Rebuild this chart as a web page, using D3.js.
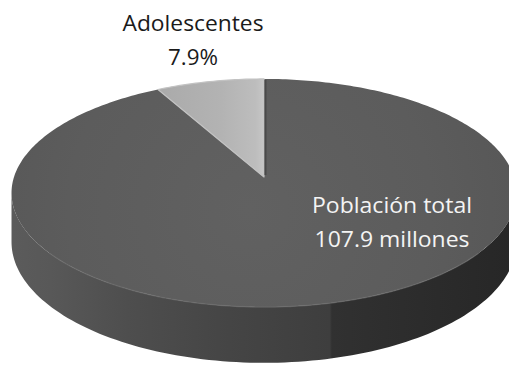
<!DOCTYPE html>
<html>
<head>
<meta charset="utf-8">
<script src="https://cdn.jsdelivr.net/npm/d3@7"></script>
<style>
  html, body { margin: 0; padding: 0; background: #ffffff; }
  svg { display: block; }
</style>
</head>
<body>
<svg id="chart" width="509" height="366"></svg>
<script>
// ---- data ----
const categories = ["Población total", "Adolescentes"];
const shares = [92.1, 7.9];            // percent of the pie
const totalMillions = 107.9;           // total population (millions)
const labelLines = [
  ["Población total", totalMillions + " millones"],
  ["Adolescentes", "7.9%"]
];

// ---- geometry (perspective pie) ----
const W = 509, H = 366;
const cx = 264, cy = 177;   // apex of the slices
const Sx = 250, Sy = 111.8, k = 0.14, depth = 48;

const svg = d3.select("#chart");
const defs = svg.append("defs");

const pie = d3.pie().sort(null).value(d => d)(shares);

function project(theta, h) {
  const u = Math.sin(theta);
  const v = -Math.cos(theta);          // +1 = front, -1 = back
  const w = 1 - k * v;
  return [cx + Sx * u / w, cy + (Sy * v + h) / w];
}
function arcPoints(a0, a1, h, n) {
  const pts = [];
  for (let i = 0; i <= n; i++) {
    const t = a0 + (a1 - a0) * i / n;
    pts.push(project(t, h));
  }
  return pts;
}
const line = d3.line().curve(d3.curveLinear);

// side gradient
const sg = defs.append("linearGradient").attr("id", "sideGrad")
  .attr("gradientUnits", "userSpaceOnUse")
  .attr("x1", 0).attr("y1", 0).attr("x2", W).attr("y2", 0);
[[0, "#5c5c5c"], [0.1, "#585858"], [0.25, "#4e4e4e"], [0.45, "#454545"], [0.648, "#3e3e3e"],
 [0.652, "#313131"], [1, "#272727"]].forEach(s =>
  sg.append("stop").attr("offset", s[0]).attr("stop-color", s[1]));

// top face radial gradient (subtle)
const tg = defs.append("radialGradient").attr("id", "topGrad")
  .attr("gradientUnits", "userSpaceOnUse")
  .attr("cx", 250).attr("cy", 210).attr("r", 260);
[[0, "#616161"], [0.7, "#5c5c5c"], [1, "#585858"]].forEach(s =>
  tg.append("stop").attr("offset", s[0]).attr("stop-color", s[1]));

const ag = defs.append("linearGradient").attr("id", "adoGrad")
  .attr("x1", 0).attr("y1", 0).attr("x2", 1).attr("y2", 0);
[[0, "#aaaaaa"], [0.6, "#b3b3b3"], [0.92, "#bdbdbd"], [1, "#c6c6c6"]].forEach(s =>
  ag.append("stop").attr("offset", s[0]).attr("stop-color", s[1]));

// ---- side (visible front wall) ----
const thR = Math.acos(-k), thL = 2 * Math.PI - Math.acos(-k);
const sideTop = arcPoints(thR, thL, 0, 120);
const sideBot = arcPoints(thL, thR, depth, 120);
svg.append("path")
  .attr("d", line(sideTop.concat(sideBot)) + "Z")
  .attr("fill", "url(#sideGrad)");

// ---- top faces ----
pie.forEach((s, i) => {
  const n = Math.max(8, Math.round((s.endAngle - s.startAngle) * 60));
  const pts = [[cx, cy]].concat(arcPoints(s.startAngle, s.endAngle, 0, n));
  svg.append("path")
    .attr("d", line(pts) + "Z")
    .attr("fill", i === 0 ? "url(#topGrad)" : "url(#adoGrad)")
    .attr("stroke", i === 0 ? "none" : "#c2c2c2")
    .attr("stroke-width", i === 0 ? 0 : 1.2)
    .attr("stroke-linejoin", "round");
});

// rim highlight at the front
svg.append("path")
  .attr("d", line(arcPoints(Math.PI - 0.9, Math.PI + 0.9, 0, 100)))
  .attr("fill", "none").attr("stroke", "#6a6a6a").attr("stroke-width", 1.5)
  .attr("opacity", 0.7);

// dark seam at the right edge of the adolescent slice
svg.append("path")
  .attr("d", line([[cx + 1.5, cy - 2], project(0, 0).map((v, j) => j === 0 ? v + 1.5 : v + 1)]))
  .attr("stroke", "#4a4a4a").attr("stroke-width", 2);

// ---- labels ----
const font = "'Open Sans', 'Noto Sans', sans-serif";
function label(lines, x, y0, fill, widths) {
  lines.forEach((t, j) => {
    svg.append("text")
      .attr("x", x).attr("y", y0 + j * 33.5)
      .attr("text-anchor", "middle")
      .attr("font-family", font)
      .attr("font-size", 22)
      .attr("fill", fill)
      .attr("textLength", widths[j])
      .attr("lengthAdjust", "spacingAndGlyphs")
      .text(t);
  });
}
label(labelLines[1], 193, 31, "#1a1a1a", [141, 50]);
label(labelLines[0], 392, 213, "#f4f4f4", [160, 155]);
</script>
</body>
</html>
